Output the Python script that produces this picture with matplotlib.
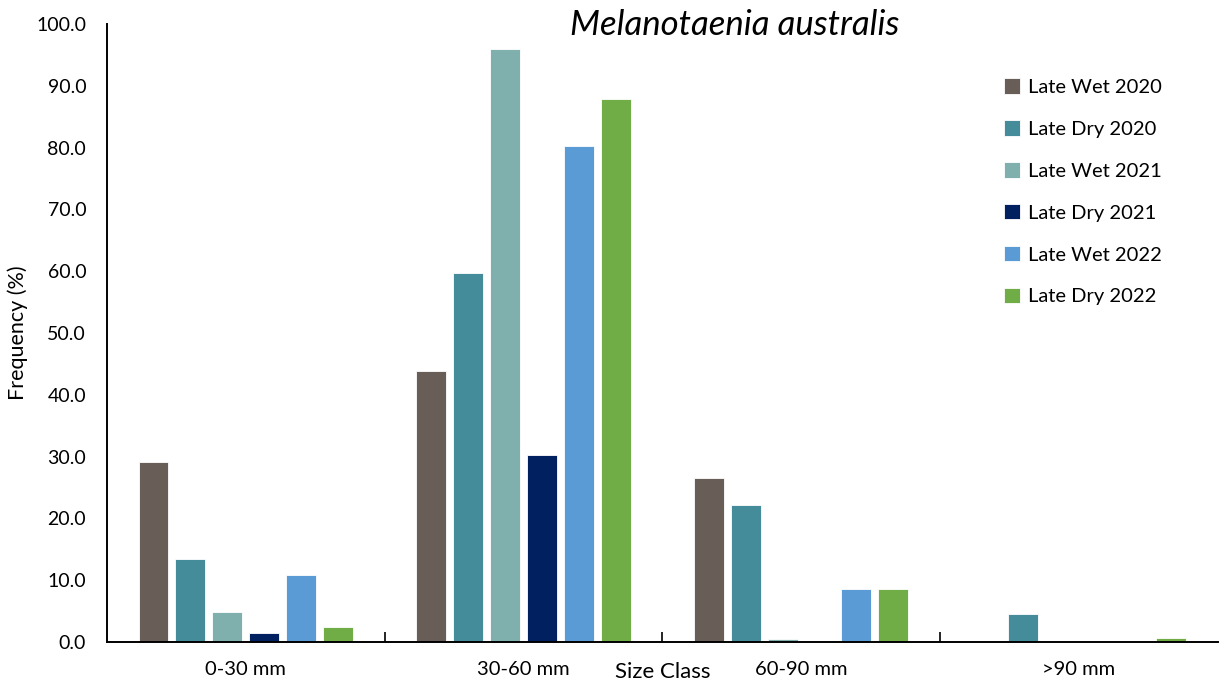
import matplotlib
matplotlib.use("Agg")
import matplotlib.pyplot as plt
import numpy as np

plt.rcParams['font.family'] = ['Lato', 'DejaVu Sans']

# data
size_classes = ['0-30 mm', '30-60 mm', '60-90 mm', '>90 mm']
seasons = ['Late Wet 2020', 'Late Dry 2020', 'Late Wet 2021',
           'Late Dry 2021', 'Late Wet 2022', 'Late Dry 2022']
late_wet_2020 = [29.1, 43.9, 26.6, 0.0]
late_dry_2020 = [13.4, 59.7, 22.2, 4.5]
late_wet_2021 = [4.8, 96.0, 0.5, 0.0]
late_dry_2021 = [1.4, 30.3, 0.0, 0.0]
late_wet_2022 = [10.8, 80.3, 8.6, 0.0]
late_dry_2022 = [2.4, 87.9, 8.6, 0.7]
colors = ['#685E57', '#448C9A', '#7FB0AD', '#002060', '#5B9BD5', '#70AD47']

series = [late_wet_2020, late_dry_2020, late_wet_2021,
          late_dry_2021, late_wet_2022, late_dry_2022]

fig = plt.figure(figsize=(12.2, 6.87), dpi=100)
ax = fig.add_axes([0.0877, 0.0655, 0.9103, 0.8995])

x = np.arange(len(size_classes))
pitch = 0.133
width = 0.108
for i, (vals, name, col) in enumerate(zip(series, seasons, colors)):
    ax.bar(x + (i - 2.5) * pitch, vals, width, color=col, label=name,
           edgecolor='white', linewidth=0.6)

ax.set_xlim(-0.5, 3.5)
ax.set_ylim(0, 100)
ax.set_yticks(np.arange(0, 101, 10))
ax.set_yticklabels([f'{v:.1f}' for v in np.arange(0, 101, 10)])
ax.tick_params(axis='y', length=0, pad=15, labelsize=14)

# boundary ticks (inward) and category labels as minor ticks
ax.set_xticks([0.5, 1.5, 2.5])
ax.set_xticklabels([])
ax.tick_params(axis='x', which='major', direction='in', length=7, width=1.2)
ax.set_xticks(x, minor=True)
ax.set_xticklabels(size_classes, minor=True)
ax.tick_params(axis='x', which='minor', length=0, pad=14, labelsize=14.5)

for s in ['top', 'right']:
    ax.spines[s].set_visible(False)
for s in ['left', 'bottom']:
    ax.spines[s].set_linewidth(1.4)

ax.set_xlabel('Size Class', fontsize=16, va='center')
ax.xaxis.set_label_coords(0.5, -0.048)
ax.set_ylabel('Frequency (%)', fontsize=15.5)
ax.yaxis.set_label_coords(-0.071, 0.5)

ax.text(0.565, 0.998, 'Melanotaenia australis', transform=ax.transAxes,
        ha='center', va='center', fontsize=25, style='italic')

ax.legend(loc='upper left', bbox_to_anchor=(0.8, 0.925), frameon=False,
          fontsize=14.5, handlelength=0.8, handleheight=0.8, handletextpad=0.4,
          labelspacing=1.2, borderaxespad=0)

fig.savefig('out.png', dpi=100)
